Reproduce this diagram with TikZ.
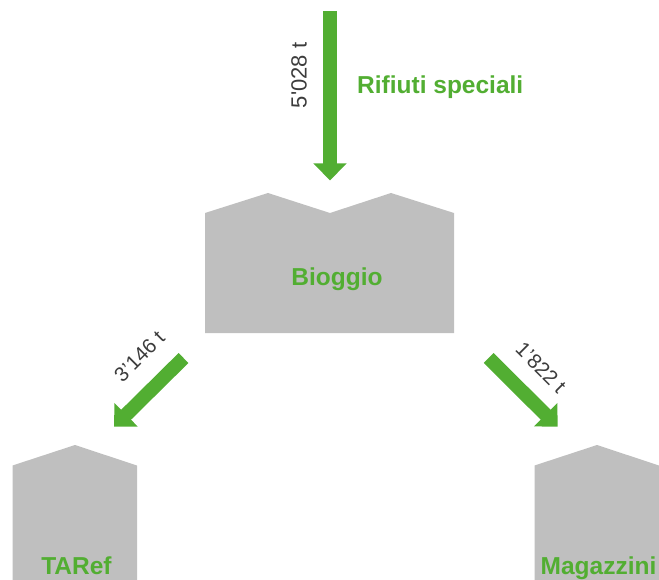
\documentclass[tikz,border=0pt]{standalone}
\usepackage{fontspec}
\setmainfont{Liberation Sans}
\usetikzlibrary{arrows.meta}
\definecolor{leaf}{HTML}{52AE32}
\definecolor{shed}{HTML}{BFBFBF}
\definecolor{ink}{HTML}{3C3C3C}
\tikzset{
    flow/.style={line width=14pt,leaf,-{Triangle[width=32pt,length=17pt,sep=0pt]}},
    place/.style={text=leaf,font=\bfseries\fontsize{24.5}{24.5}\selectfont,inner sep=0pt,anchor=base},
    weight/.style={text=ink,font=\fontsize{22}{22}\selectfont,inner sep=0pt,anchor=center},
    slanted weight/.style={weight,font=\fontsize{20.5}{20.5}\selectfont},
}
\newcommand\house[3]{
    \fill[shed] (#1,#3) -- (#1+62.5,445) -- (#2,#3) -- (#2,580) -- (#1,580) -- cycle;
}
\begin{document}
\begin{tikzpicture}[x=1pt,y=-1pt]
            \useasboundingbox (0,0) rectangle (659,580);
            \fill[shed] (205,213) -- (268,193) -- (330,213) -- (391,193) --
                (454,213) -- (454,333) -- (205,333) -- cycle;
            \house{12.5}{137}{465.5}
            \house{534.5}{659}{465.5}
            \coordinate (in) at (330,11);
            \coordinate (intip) at (330,180.5);
            \coordinate (left) at (183.5,358);
            \coordinate (lefttip) at (114,426.7);
            \coordinate (right) at (488.7,358);
            \coordinate (righttip) at (557.7,426.7);
            \draw[flow] (in) -- (intip);
            \draw[flow] (left) -- (lefttip);
            \draw[flow] (right) -- (righttip);
            \node[place,anchor=base west] (rifiuti) at (357,94) {Rifiuti speciali};
            \node[place] (bioggio) at (337,286) {Bioggio};
            \node[place] (taref) at (76.5,574) {TARef};
            \node[place] (magazzini) at (598.5,574) {Magazzini};
            \node[weight,rotate=90] (w5028) at (299,75.5) {5\textquotesingle 028 t};
            \node[slanted weight,rotate=45] (w3146) at (139.5,356.5) {3’146 t};
            \node[slanted weight,rotate=-45] (w1822) at (541,367.5) {1’822 t};
        \end{tikzpicture}
\end{document}
